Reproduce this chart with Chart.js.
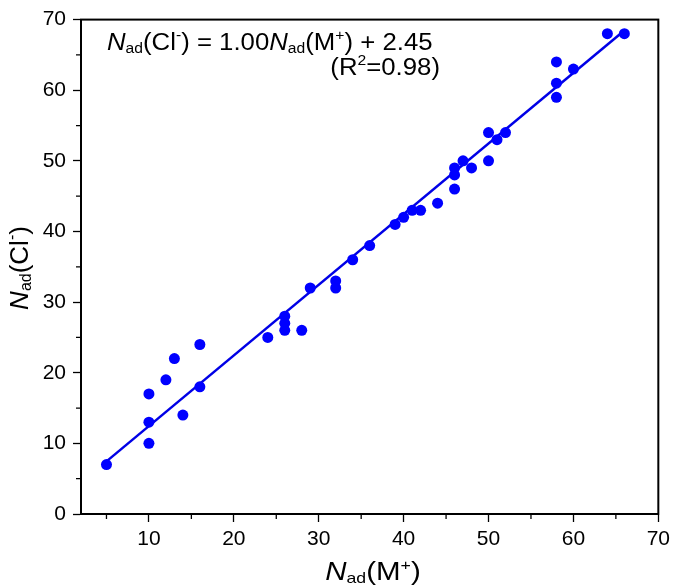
<!DOCTYPE html>
<html>
<head>
<meta charset="utf-8">
<script src="https://cdn.jsdelivr.net/npm/chart.js@4"></script>
<style>
  html, body { margin: 0; padding: 0; background: #fff; }
  #wrap { width: 675px; height: 588px; }
</style>
</head>
<body>
<div id="wrap"><canvas id="chartAdsorb"></canvas></div>
<script>
// N_ad(M+) vs N_ad(Cl-)
var nadCation = [5, 10, 10, 10, 12, 13, 14, 16, 16,
    24, 26, 26, 26, 28, 29, 32, 32, 34, 36,
    39, 40, 41, 42, 44, 46, 46, 46, 47, 48, 50, 50, 51, 52,
    58, 58, 58, 60, 64, 66];
var nadAnion = [7, 10, 13, 17, 19, 22, 14, 18, 24,
    25, 26, 27, 28, 26, 32, 32, 33, 36, 38,
    41, 42, 43, 43, 44, 46, 48, 49, 50, 49, 50, 54, 53, 54,
    59, 61, 64, 63, 68, 68];

// 선형 피팅 직선 양 끝
var fitX = [5, 66];
var fitY = [7.45, 68.45];

var xTickValues = [5, 10, 15, 20, 25, 30, 35, 40, 45, 50, 55, 60, 65, 70];
var yTickValues = [0, 5, 10, 15, 20, 25, 30, 35, 40, 45, 50, 55, 60, 65, 70];

var FONT = "'Liberation Sans', Arial, sans-serif";
var BLUE = "#0000FF";

var scatterData = nadCation.map(function(v, i) { return { x: v, y: nadAnion[i] }; });
var fitData = fitX.map(function(v, i) { return { x: v, y: fitY[i] }; });

// 첨자 있는 텍스트 그리기 (hs: 가로 늘림 비율)
var drawRich = function(ctx, parts, x, y, size, align, hs) {
    hs = hs || 1;
    var subSize = Math.round(size * 0.6);
    var fontOf = function(p) {
        var s = (p.sub || p.sup) ? subSize : size;
        return (p.italic ? "italic " : "") + s + "px " + FONT;
    };
    var total = 0;
    parts.forEach(function(p) { ctx.font = fontOf(p); total += ctx.measureText(p.t).width; });
    var cx = align === "center" ? -total / 2 : (align === "right" ? -total : 0);
    ctx.save();
    ctx.translate(x, y);
    ctx.scale(hs, 1);
    ctx.textBaseline = "alphabetic";
    ctx.textAlign = "left";
    parts.forEach(function(p) {
        ctx.font = fontOf(p);
        var dy = p.sub ? size * 0.12 : (p.sup ? -size * 0.42 : 0);
        ctx.fillText(p.t, cx, dy);
        cx += ctx.measureText(p.t).width;
    });
    ctx.restore();
};

var isMajor = function(v) { return v % 10 === 0; };

var framePlugin = {
    id: "frameAndText",
    afterDraw: function(chart) {
        var ctx = chart.ctx, a = chart.chartArea;
        var xs = chart.scales.x, ys = chart.scales.y;
        ctx.save();
        ctx.strokeStyle = "#000";
        ctx.lineWidth = 2;
        ctx.strokeRect(a.left, a.top, a.right - a.left, a.bottom - a.top);
        // 보조 눈금
        ctx.lineWidth = 1.3;
        ctx.beginPath();
        xTickValues.forEach(function(v) {
            if (isMajor(v)) return;
            var px = xs.getPixelForValue(v);
            ctx.moveTo(px, a.bottom); ctx.lineTo(px, a.bottom + 5);
        });
        yTickValues.forEach(function(v) {
            if (isMajor(v)) return;
            var py = ys.getPixelForValue(v);
            ctx.moveTo(a.left, py); ctx.lineTo(a.left - 5, py);
        });
        ctx.stroke();

        ctx.fillStyle = "#000";
        // 피팅 식
        drawRich(ctx, [
            { t: "N", italic: true }, { t: "ad", sub: true }, { t: "(Cl" }, { t: "-", sup: true },
            { t: ") = 1.00" }, { t: "N", italic: true }, { t: "ad", sub: true }, { t: "(M" },
            { t: "+", sup: true }, { t: ") + 2.45" }
        ], 107, 50, 23, "left", 1.12);
        drawRich(ctx, [{ t: "(R" }, { t: "2", sup: true }, { t: "=0.98)" }], 440, 75, 23, "right", 1.12);

        // 축 제목
        drawRich(ctx, [
            { t: "N", italic: true }, { t: "ad", sub: true }, { t: "(M" }, { t: "+", sup: true }, { t: ")" }
        ], 373, 580, 25, "center", 1.18);
        ctx.translate(28, 268);
        ctx.rotate(-Math.PI / 2);
        drawRich(ctx, [
            { t: "N", italic: true }, { t: "ad", sub: true }, { t: "(Cl" }, { t: "-", sup: true }, { t: ")" }
        ], 0, 0, 26, "center");
        ctx.restore();
    }
};

new Chart(document.getElementById("chartAdsorb").getContext("2d"), {
    type: "scatter",
    data: {
        datasets: [{
            label: "data",
            data: scatterData,
            backgroundColor: BLUE,
            borderColor: BLUE,
            pointRadius: 5.5,
            pointBorderWidth: 0,
            order: 1
        }, {
            type: "line",
            label: "fit",
            data: fitData,
            borderColor: "#0000E6",
            borderWidth: 2.5,
            pointRadius: 0,
            fill: false,
            order: 2
        }]
    },
    options: {
        responsive: true,
        maintainAspectRatio: false,
        animation: false,
        layout: { padding: { top: 13, right: 14, left: 0, bottom: 0 } },
        plugins: { legend: { display: false }, tooltip: { enabled: false } },
        scales: {
            x: {
                type: "linear",
                min: 2,
                max: 70,
                afterBuildTicks: function(scale) {
                    scale.ticks = xTickValues.map(function(v) { return { value: v }; });
                },
                afterFit: function(scale) { scale.height = 74; },
                ticks: {
                    autoSkip: false,
                    maxRotation: 0,
                    padding: 5,
                    color: "#000",
                    font: { family: FONT, size: 21 },
                    callback: function(v) { return isMajor(v) ? String(v) : ""; }
                },
                grid: {
                    drawOnChartArea: false,
                    drawTicks: true,
                    tickLength: 8,
                    tickWidth: 1.3,
                    tickColor: function(c) { return c.tick && isMajor(c.tick.value) ? "#000" : "rgba(0,0,0,0)"; }
                },
                border: { display: true, color: "#000", width: 2 }
            },
            y: {
                type: "linear",
                min: 0,
                max: 70,
                afterBuildTicks: function(scale) {
                    scale.ticks = yTickValues.map(function(v) { return { value: v }; });
                },
                afterFit: function(scale) { scale.width = 81; },
                ticks: {
                    autoSkip: false,
                    padding: 7,
                    color: "#000",
                    font: { family: FONT, size: 21 },
                    callback: function(v) { return isMajor(v) ? String(v) : ""; }
                },
                grid: {
                    drawOnChartArea: false,
                    drawTicks: true,
                    tickLength: 8,
                    tickWidth: 1.3,
                    tickColor: function(c) { return c.tick && isMajor(c.tick.value) ? "#000" : "rgba(0,0,0,0)"; }
                },
                border: { display: true, color: "#000", width: 2 }
            }
        }
    },
    plugins: [framePlugin]
});
</script>
</body>
</html>
